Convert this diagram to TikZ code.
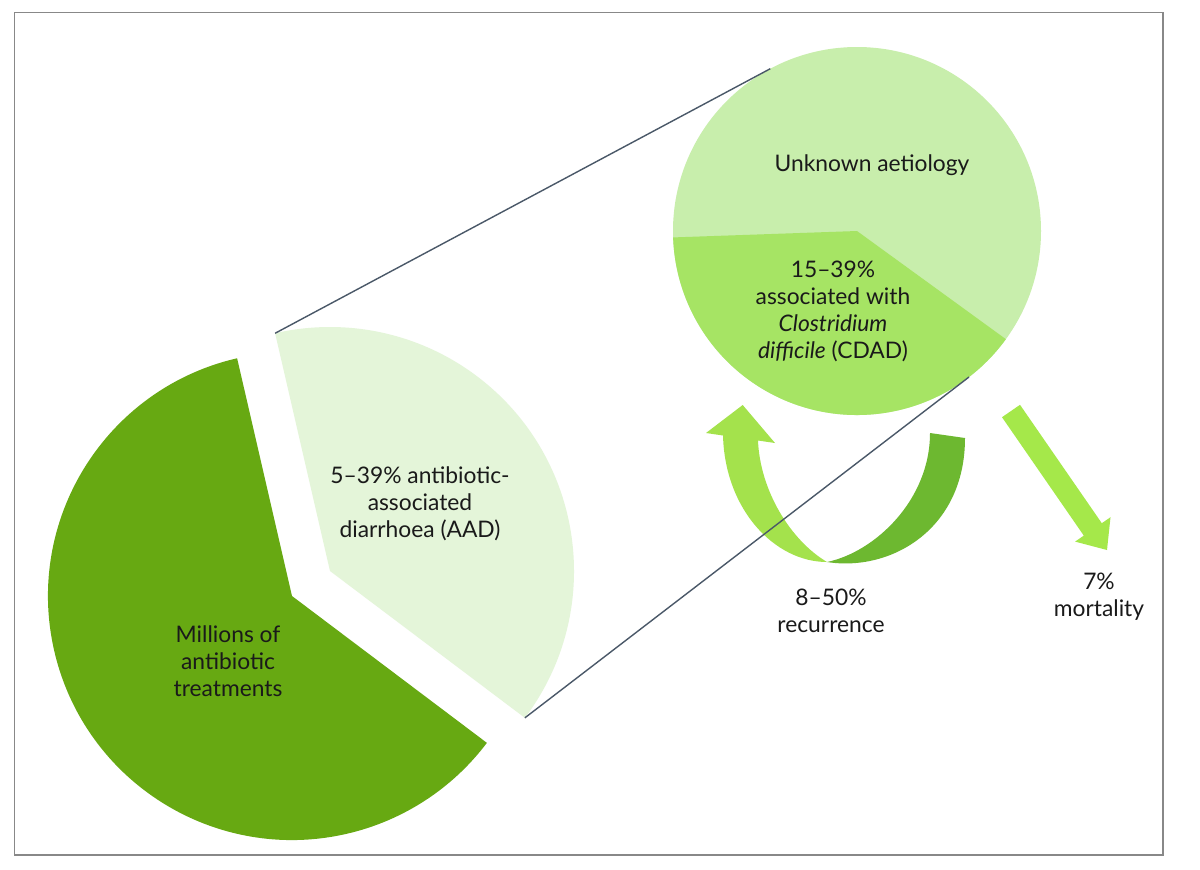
\documentclass[tikz,border=0pt]{standalone}
\usepackage{fontspec}
\setmainfont{Lato}
\definecolor{pieDark}{HTML}{67A912}
\definecolor{pieLight}{HTML}{E4F5D9}
\definecolor{unkC}{HTML}{C8EEAC}
\definecolor{cdadC}{HTML}{A6E464}
\definecolor{arrLight}{HTML}{A4E24C}
\definecolor{arrDark}{HTML}{6DB830}
\definecolor{mortC}{HTML}{A5E84A}
\definecolor{lineC}{HTML}{4A5868}
\definecolor{frameC}{HTML}{888888}
\definecolor{txtC}{HTML}{1A1A1A}
\begin{document}
\begin{tikzpicture}[x=0.5pt,y=-0.5pt,
  lbl/.style={font=\fontsize{11.4}{13.5}\selectfont, text=txtC, align=center, inner sep=0pt},
  zoomline/.style={draw=lineC, line width=0.7pt},
  framebox/.style={draw=frameC, line width=0.75pt}]
\fill[white] (0,0) rectangle (1200,869);
\useasboundingbox (0,0) rectangle (1200,869);
\draw[framebox] (14.5,12.5) rectangle (1163,855);
% large exploded pie
\fill[pieDark] (292,596) -- ++(-103:244) arc[start angle=-103,end angle=-323,radius=244] -- cycle;
\fill[pieLight] (330,571) -- ++(37:244) arc[start angle=37,end angle=-103,radius=244] -- cycle;
\path (330,571) ++(-103:244) coordinate (a1);
\path (330,571) ++(37:244) coordinate (a2);
% small pie
\fill[unkC] (857,231) circle[radius=184];
\fill[cdadC] (857,231) -- ++(36:184) arc[start angle=36,end angle=178,radius=184] -- cycle;
\coordinate (t1) at (770.3,68.7);
\coordinate (t2) at (969,377);
% curved recurrence arrow
\fill[arrLight] (723,435.5) .. controls (725,510) and (775,562) .. (827,562)
  .. controls (790,540) and (760,490) .. (758,440.5) -- (775,443) -- (742.7,405) -- (706,433) -- cycle;
\fill[arrDark] (827,562) .. controls (890,572) and (965,530) .. (965,438) -- (930,433)
  .. controls (930,500) and (875,552) .. (827,562) -- cycle;
% mortality arrow
\fill[mortC] (1020,404.8) -- (1101.8,523.2) -- (1110.5,517.2) -- (1107,550) -- (1075.1,541.6) -- (1083.8,535.6) -- (1002,417.2) -- cycle;
% zoom lines
\draw[zoomline] (a1) -- (t1);
\draw[zoomline] (a2) -- (t2);
% labels
\node[lbl] (unk) at (872,165) {Unknown aetiology};
\node[lbl] (cdad) at (833,311) {15–39\%\\associated with\\\textit{Clostridium}\\\textit{difficile} (CDAD)};
\node[lbl] (aad) at (420,504) {5–39\% antibiotic-\\associated\\diarrhoea (AAD)};
\node[lbl] (mill) at (228,661) {Millions of\\antibiotic\\treatments};
\node[lbl] (rec) at (831,611) {8–50\%\\recurrence};
\node[lbl] (mort) at (1099,597) {7\%\\mortality};
\end{tikzpicture}
\end{document}
